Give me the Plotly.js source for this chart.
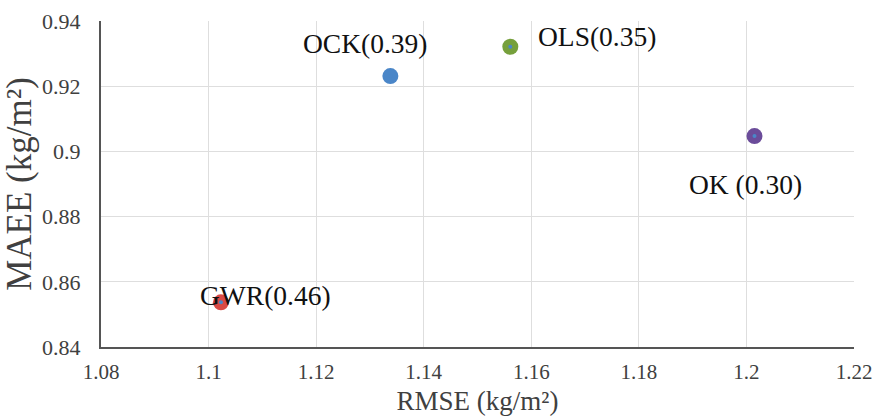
<!DOCTYPE html>
<html>
<head>
<meta charset="utf-8">
<script src="https://cdn.plot.ly/plotly-3.0.1.min.js"></script>
<style>html,body{margin:0;padding:0;background:#fff;}#chart{width:875px;height:417px;}</style>
</head>
<body>
<div id="chart"></div>
<script>
const methods = ["GWR", "OCK", "OLS", "OK"];
const labels = ["GWR(0.46)", "OCK(0.39)", "OLS(0.35)", "OK (0.30)"];
const rmse = [1.1023, 1.1338, 1.1561, 1.2015];
const maee = [0.8537, 0.9231, 0.9321, 0.9047];
const colors = ["#d94a45", "#4a86c8", "#76a03c", "#6b4c9a"];
const xTicks = [1.08, 1.1, 1.12, 1.14, 1.16, 1.18, 1.2, 1.22];
const yTicks = [0.84, 0.86, 0.88, 0.9, 0.92, 0.94];
const labelDx = [45, -25, 87, -9];
const labelDy = [7, 33, 10, -48];

const SERIF = "Liberation Serif, serif";

const traces = [
  {x: rmse, y: maee, mode: "markers", type: "scatter",
   marker: {size: 16, color: colors, line: {width: 0}}, hoverinfo: "skip"},
  {x: rmse, y: maee, mode: "markers", type: "scatter",
   marker: {size: 4, color: "#4a86c8"}, hoverinfo: "skip"}
];

const annotations = methods.map((m, i) => ({
  x: rmse[i], y: maee[i], xref: "x", yref: "y",
  text: labels[i], showarrow: false,
  xshift: labelDx[i], yshift: labelDy[i],
  xanchor: "center", yanchor: "middle",
  font: {family: SERIF, size: 27.5, color: "#111"}
}));

const layout = {
  width: 875, height: 417,
  margin: {l: 101, r: 21, t: 21, b: 70},
  paper_bgcolor: "#fff", plot_bgcolor: "#fff",
  showlegend: false,
  font: {family: SERIF, color: "#404040"},
  xaxis: {
    range: [1.08, 1.22], tickvals: xTicks, ticktext: xTicks.map(v => String(v)),
    showgrid: true, gridcolor: "#dedede", gridwidth: 1,
    showline: true, linecolor: "#555", linewidth: 2, zeroline: false,
    ticks: "", ticklabelstandoff: 5,
    tickfont: {family: SERIF, size: 21, color: "#404040"},
    title: {text: "RMSE (kg/m²)", font: {family: SERIF, size: 27, color: "#404040"}, standoff: 8}
  },
  yaxis: {
    range: [0.84, 0.94], tickvals: yTicks, ticktext: yTicks.map(v => String(v)),
    showgrid: true, gridcolor: "#dedede", gridwidth: 1,
    showline: true, linecolor: "#555", linewidth: 2, zeroline: false,
    ticks: "", ticklabelstandoff: 14,
    tickfont: {family: SERIF, size: 22, color: "#404040"},
    title: {text: "MAEE (kg/m²)", font: {family: SERIF, size: 35, color: "#404040"}, standoff: 0}
  },
  annotations: annotations
};

Plotly.newPlot("chart", traces, layout, {displayModeBar: false, staticPlot: true});
</script>
</body>
</html>
